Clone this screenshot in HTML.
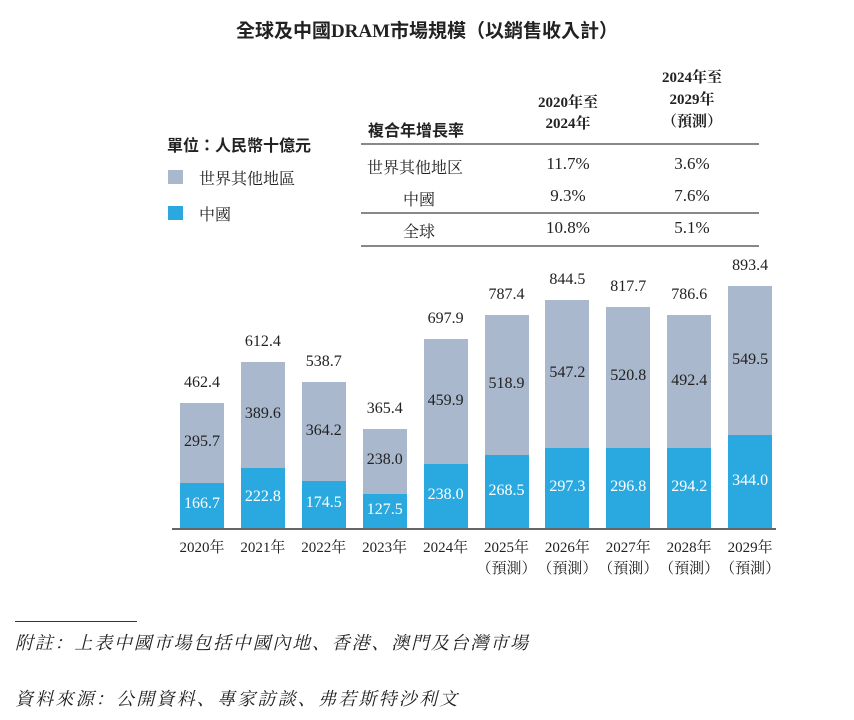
<!DOCTYPE html>
<html><head><meta charset="utf-8"><style>
body{margin:0;width:854px;height:720px;background:#fff;position:relative;font-family:"Liberation Serif","Noto Serif CJK SC",serif;color:#222;overflow:hidden}
.a{position:absolute;white-space:nowrap}
.c{transform:translateX(-50%);text-align:center}
.b{font-weight:bold}
.line{position:absolute;height:2px;background:#888}
</style></head><body>
<div class="a c b" style="left:427px;top:16px;font-size:19px;font-family:'Liberation Serif','Noto Sans CJK TC',sans-serif">全球及中國DRAM市場規模（以銷售收入計）</div>
<div class="a b" style="left:167px;top:132px;font-size:16px;font-family:'Liberation Sans','Noto Sans CJK TC',sans-serif">單位：人民幣十億元</div>
<div class="a" style="left:168px;top:170px;width:15px;height:14px;background:#a9b8cc"></div>
<div class="a" style="left:199px;top:166px;font-size:16px">世界其他地區</div>
<div class="a" style="left:168px;top:206px;width:15px;height:14px;background:#29a9e0"></div>
<div class="a" style="left:199px;top:202px;font-size:16px">中國</div>
<div>
<div class="a b" style="left:368px;top:117px;font-size:16px;font-family:'Liberation Sans','Noto Sans CJK TC',sans-serif">複合年增長率</div>
<div class="a c b" style="left:568px;top:93px;font-size:15px;line-height:21px">2020年至<br>2024年</div>
<div class="a c b" style="left:692px;top:67px;font-size:15px;line-height:22px">2024年至<br>2029年<br>（預測）</div>
<div class="line" style="left:361px;top:143px;width:398px"></div>
<div class="line" style="left:361px;top:212px;width:398px"></div>
<div class="line" style="left:361px;top:245px;width:398px"></div>
<div class="a" style="left:367px;top:155px;font-size:16px">世界其他地区</div>
<div class="a c" style="left:568px;top:154px;font-size:17px">11.7%</div>
<div class="a c" style="left:692px;top:154px;font-size:17px">3.6%</div>
<div class="a" style="left:403px;top:187px;font-size:16px">中國</div>
<div class="a c" style="left:568px;top:186px;font-size:17px">9.3%</div>
<div class="a c" style="left:692px;top:186px;font-size:17px">7.6%</div>
<div class="a" style="left:403px;top:219px;font-size:16px">全球</div>
<div class="a c" style="left:568px;top:218px;font-size:17px">10.8%</div>
<div class="a c" style="left:692px;top:218px;font-size:17px">5.1%</div>
</div>
<div id="chart"></div>
<div class="a" style="left:15px;top:621px;width:122px;height:1px;background:#333"></div>
<div class="a" style="left:15px;top:629px;font-size:18px;letter-spacing:1.8px;font-style:italic">附註：上表中國市場包括中國內地、香港、澳門及台灣市場</div>
<div class="a" style="left:15px;top:685px;font-size:18px;letter-spacing:2.2px;font-style:italic">資料來源：公開資料、專家訪談、弗若斯特沙利文</div>
<script>
const years=["2020年","2021年","2022年","2023年","2024年","2025年","2026年","2027年","2028年","2029年"];
const forecast=[false,false,false,false,false,true,true,true,true,true];
const china=[166.7,222.8,174.5,127.5,238.0,268.5,297.3,296.8,294.2,344.0];
const rest=[295.7,389.6,364.2,238.0,459.9,518.9,547.2,520.8,492.4,549.5];
const totals=["462.4","612.4","538.7","365.4","697.9","787.4","844.5","817.7","786.6","893.4"];
const base=528,scale=0.2703,x0=180,step=60.9,bw=44;
const yv=v=>v*scale;
const xb=i=>x0+i*step;
const root=document.getElementById('chart');
function add(style,txt){const d=document.createElement('div');d.className='a';d.style.cssText=style;if(txt!==undefined)d.textContent=txt;root.appendChild(d);return d;}
const ax=add(`left:172px;top:${base}px;width:604px;height:2px;background:#666`);


years.forEach((y,i)=>{
 const x=xb(i),hc=yv(china[i]),hr=yv(rest[i]);
 const bc=add(`left:${x}px;top:${base-hc}px;width:${bw}px;height:${hc}px;background:#29a9e0`);
 
 
 const br=add(`left:${x}px;top:${base-hc-hr}px;width:${bw}px;height:${hr}px;background:#a9b8cc`);
 
 
 const cx=x+bw/2;
 const l1=add(`left:${cx}px;top:${base-hc/2-10}px;font-size:16px;color:#fff;transform:translateX(-50%)`,china[i].toFixed(1));
 
 
 const l2=add(`left:${cx}px;top:${base-hc-hr/2-10}px;font-size:16px;transform:translateX(-50%)`,rest[i].toFixed(1));
 
 
 const l3=add(`left:${cx}px;top:${base-hc-hr-29}px;font-size:16px;transform:translateX(-50%)`,totals[i]);
 
 
 const xl=add(`left:${cx}px;top:538px;font-size:15px;line-height:21px;text-align:center;transform:translateX(-50%)`);
 xl.innerHTML=y+(forecast[i]?'<br>（預測）':'');
 
 
});
</script>
</body></html>
